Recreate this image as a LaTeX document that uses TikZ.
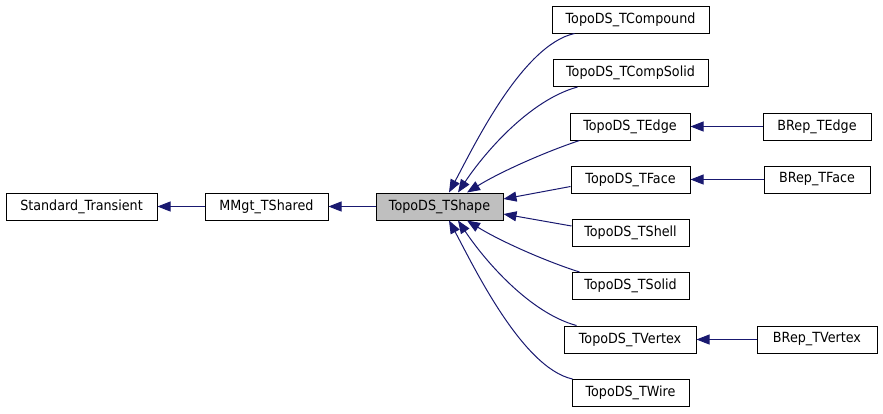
\documentclass[tikz,border=0pt]{standalone}
\usepackage{fontspec}
\setmainfont{DejaVu Sans}[FakeStretch=0.91]
\usetikzlibrary{arrows.meta,calc}
\definecolor{navyedge}{HTML}{191970}
\definecolor{grayfill}{HTML}{BFBFBF}
\begin{document}
\begin{tikzpicture}[x=1pt,y=-1pt,
  box/.style={draw=black, line width=1pt, fill=white, minimum height=27pt, inner sep=0pt, font=\fontsize{14}{16}\selectfont},
  conn/.style={draw=navyedge, line width=1pt, {Triangle[length=13pt,width=10pt]}-}]
\useasboundingbox (0,0) rectangle (883,413);
\node[box, minimum width=151pt] (ST) at (81.5,206.5) {Standard\_Transient};
\node[box, minimum width=123pt] (MM) at (266.5,206.5) {MMgt\_TShared};
\node[box, minimum width=127pt, fill=grayfill] (TS) at (439.5,206.5) {TopoDS\_TShape};
\node[box, minimum width=157pt] (TC) at (630.5,19.5) {TopoDS\_TCompound};
\node[box, minimum width=155pt] (TCS) at (630.5,73) {TopoDS\_TCompSolid};
\node[box, minimum width=120pt] (TE) at (630,126.5) {TopoDS\_TEdge};
\node[box, minimum width=119pt] (TF) at (630.5,179.5) {TopoDS\_TFace};
\node[box, minimum width=117pt] (TSh) at (630.5,233) {TopoDS\_TShell};
\node[box, minimum width=117pt] (TSo) at (630.5,286) {TopoDS\_TSolid};
\node[box, minimum width=132pt] (TV) at (630,339.5) {TopoDS\_TVertex};
\node[box, minimum width=117pt] (TW) at (630.5,393) {TopoDS\_TWire};
\node[box, minimum width=108pt] (BE) at (817,126.5) {BRep\_TEdge};
\node[box, minimum width=106pt] (BF) at (817,179.5) {BRep\_TFace};
\node[box, minimum width=120pt] (BV) at (817,339.5) {BRep\_TVertex};
% straight connectors
\draw[conn] (ST.east) -- (MM.west);
\draw[conn] (MM.east) -- (TS.west);
\draw[conn] (TE.east) -- (BE.west);
\draw[conn] (TF.east) -- (BF.west);
\draw[conn] (TV.east) -- (BV.west);
\draw[conn] ($(TS.east)+(0,-7.5)$) -- ($(TF.west)+(0,7)$);
\draw[conn] ($(TS.east)+(0,7.5)$) -- ($(TSh.west)+(0,-7)$);
% curved connectors, upper
\draw[conn] ($(TS.north)+(9.5,0)$) .. controls (473,148) and (522,45) .. ($(TC.south west)+(23,0)$);
\draw[conn] ($(TS.north)+(18.5,0)$) .. controls (485,152) and (530,100) .. ($(TCS.south west)+(25,0)$);
\draw[conn] ($(TS.north)+(27.5,0)$) .. controls (500,172) and (545,152) .. ($(TE.south west)+(10,0)$);
% curved connectors, lower
\draw[conn] ($(TS.south)+(27.5,0)$) .. controls (500,241) and (545,261) .. ($(TSo.north west)+(8,0)$);
\draw[conn] ($(TS.south)+(18.5,0)$) .. controls (485,261) and (530,313) .. ($(TV.north west)+(13,0)$);
\draw[conn] ($(TS.south)+(9.5,0)$) .. controls (473,265) and (522,368) .. ($(TW.north west)+(1,0)$);
\end{tikzpicture}
\end{document}
